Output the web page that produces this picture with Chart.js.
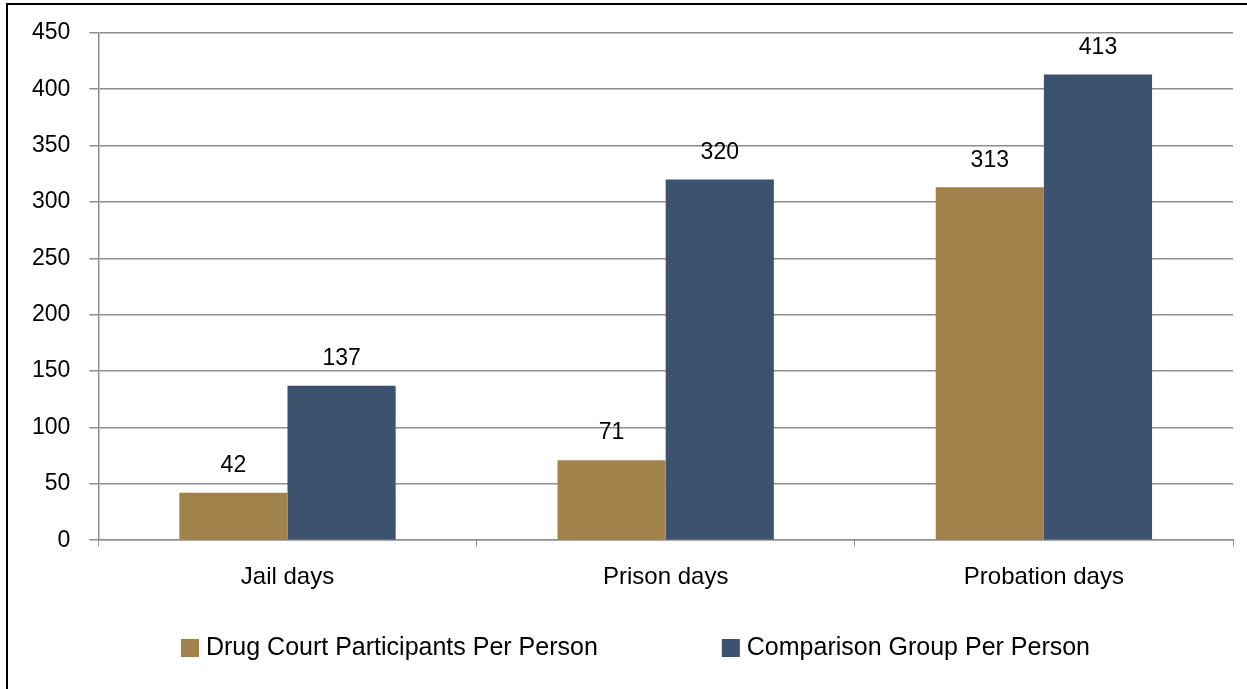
<!DOCTYPE html>
<html>
<head>
<meta charset="utf-8">
<script src="https://cdn.jsdelivr.net/npm/chart.js@4"></script>
<style>
	html, body { margin: 0; padding: 0; background: #fff; }
	#wrap { width: 1247px; height: 689px; position: relative; }
</style>
</head>
<body>
<div id="wrap"><canvas id="barChart"></canvas></div>
<script>
const categories = ['Jail days', 'Prison days', 'Probation days'];
const drugCourt = [42, 71, 313];
const comparison = [137, 320, 413];
const seriesNames = ['Drug Court Participants Per Person', 'Comparison Group Per Person'];
const yTicks = [0, 50, 100, 150, 200, 250, 300, 350, 400, 450];

const FONT = '"Liberation Sans", Arial, sans-serif';
const GRID = '#8e8e8e';

// outer black frame (only top/left fall inside the picture)
const framePlugin = {
	id: 'frame',
	afterDraw(chart) {
		const ctx = chart.ctx;
		ctx.save();
		ctx.strokeStyle = '#000';
		ctx.lineWidth = 2;
		ctx.strokeRect(7, 4, chart.width + 10, chart.height + 10);
		ctx.restore();
	}
};

// value labels above bars
const valueLabels = {
	id: 'valueLabels',
	afterDatasetsDraw(chart) {
		const ctx = chart.ctx;
		ctx.save();
		ctx.font = '23px ' + FONT;
		ctx.fillStyle = '#000';
		ctx.textAlign = 'center';
		ctx.textBaseline = 'middle';
		chart.data.datasets.forEach((ds, i) => {
			chart.getDatasetMeta(i).data.forEach((bar, j) => {
				ctx.fillText(String(ds.data[j]), bar.x, bar.y - 27);
			});
		});
		ctx.restore();
	}
};

// legend with wide gap between items
const bottomLegend = {
	id: 'bottomLegend',
	afterDraw(chart) {
		const ctx = chart.ctx;
		const box = 18, textGap = 7, itemGap = 124;
		ctx.save();
		ctx.font = '25px ' + FONT;
		ctx.textBaseline = 'middle';
		ctx.textAlign = 'left';
		const items = chart.data.datasets.map(ds => ({
			text: ds.label,
			color: ds.backgroundColor,
			w: box + textGap + ctx.measureText(ds.label).width
		}));
		const total = items.reduce((s, it) => s + it.w, 0) + itemGap * (items.length - 1);
		let x = chart.width / 2 + 12 - total / 2;
		const y = 648;
		items.forEach(it => {
			ctx.fillStyle = it.color;
			ctx.fillRect(x, y - box / 2, box, box);
			ctx.fillStyle = '#000';
			ctx.fillText(it.text, x + box + textGap, y);
			x += it.w + itemGap;
		});
		ctx.restore();
	}
};

document.addEventListener('DOMContentLoaded', () => {
	const ctx = document.getElementById('barChart');
	new Chart(ctx, {
		type: 'bar',
		data: {
			labels: categories,
			datasets: [{
				label: seriesNames[0],
				data: drugCourt,
				backgroundColor: '#A0824A'
			}, {
				label: seriesNames[1],
				data: comparison,
				backgroundColor: '#3C526F'
			}]
		},
		options: {
			responsive: true,
			maintainAspectRatio: false,
			animation: false,
			categoryPercentage: 0.572,
			barPercentage: 1,
			layout: {
				padding: { left: 13, right: 14, top: 32, bottom: 80 }
			},
			plugins: {
				legend: { display: false },
				tooltip: { enabled: false }
			},
			scales: {
				x: {
					grid: {
						display: true,
						drawOnChartArea: false,
						drawTicks: true,
						tickLength: 6,
						color: GRID
					},
					border: { color: GRID, width: 1.5 },
					ticks: {
						color: '#000',
						padding: 17,
						font: { family: FONT, size: 24 }
					}
				},
				y: {
					min: 0,
					max: 450,
					afterBuildTicks(axis) {
						axis.ticks = yTicks.map(v => ({ value: v }));
					},
					grid: {
						color: GRID,
						lineWidth: 1.5,
						tickLength: 9
					},
					border: { color: GRID, width: 1.5 },
					ticks: {
						color: '#000',
						padding: 19,
						font: { family: FONT, size: 23 }
					}
				}
			}
		},
		plugins: [valueLabels, bottomLegend, framePlugin]
	});
});
</script>
</body>
</html>
